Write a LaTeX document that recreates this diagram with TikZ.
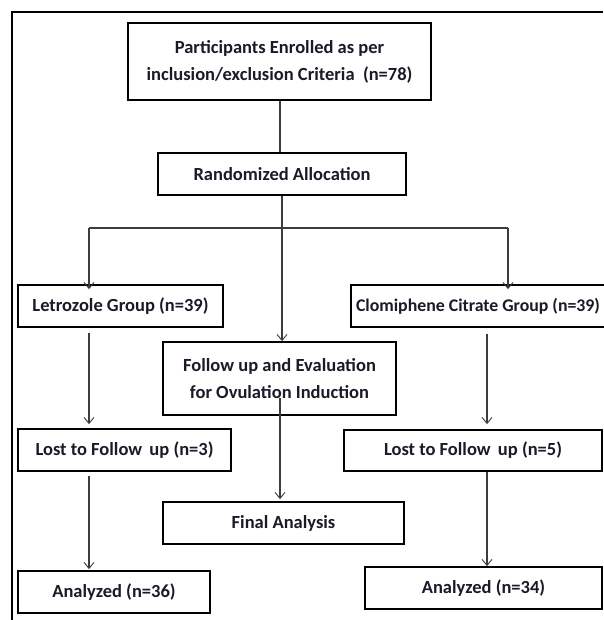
\documentclass[tikz,border=0pt]{standalone}
\usepackage{fontspec}
\setmainfont{Carlito}
\usetikzlibrary{arrows.meta}
\definecolor{txt}{HTML}{1A1A28}
\definecolor{lin}{HTML}{3C3C3C}
\begin{document}
\begin{tikzpicture}[x=1pt,y=-1pt,
  box/.style={draw=black,line width=1.8pt,rectangle,inner sep=1pt,align=center,
    font=\fontsize{18.5}{27}\selectfont\bfseries,text=txt},
  conn/.style={draw=lin,line width=1.1pt},
  arr/.style={conn,-{Straight Barb[length=6pt,width=10pt,line width=0.9pt]}}]
\useasboundingbox (0,0) rectangle (603,620);
\fill[white] (0,0) rectangle (603,620);
% frame
\draw[line width=2pt,black] (12,620) -- (12,12) -- (603,12);
% nodes
\node[box,minimum width=303pt,minimum height=77pt] (top) at (279.5,61.5)
  {Participants Enrolled as per\\inclusion/exclusion Criteria~ (n=78)};
\node[box,minimum width=248pt,minimum height=42pt] (rand) at (282,174) {Randomized Allocation};
\node[box,minimum width=205pt,minimum height=42pt] (letro) at (120.5,306) {Letrozole Group (n=39)};
\node[box,minimum width=254pt,minimum height=42pt,font=\fontsize{17.8}{27}\selectfont\bfseries] (clom) at (478,306) {Clomiphene Citrate Group (n=39)};
\node[box,minimum width=233pt,minimum height=73pt] (follow) at (279.5,378.5)
  {Follow up and Evaluation\\for Ovulation Induction};
\node[box,minimum width=213pt,minimum height=42pt] (lostL) at (124.5,450) {Lost to Follow\, up (n=3)};
\node[box,minimum width=258pt,minimum height=41pt] (lostR) at (473,450.5) {Lost to Follow\, up (n=5)};
\node[box,minimum width=241pt,minimum height=42pt] (final) at (283.5,523) {Final Analysis};
\node[box,minimum width=192pt,minimum height=42pt] (anaL) at (114,592) {Analyzed (n=36)};
\node[box,minimum width=237pt,minimum height=42pt] (anaR) at (483.5,588) {Analyzed (n=34)};
% connector points
\coordinate (hL) at (89,228);
\coordinate (hR) at (508,228);
\coordinate (xc) at (282,0);
\coordinate (xr) at (487,0);
% connectors
\draw[conn] (top.south -| 280,0) -- (rand.north -| 280,0);
\draw[arr] (rand.south -| xc) -- (follow.north -| xc);
\draw[conn] (hL) -- (hR);
\draw[arr] (hL) -- ([yshift=-5pt]hL |- letro.north);
\draw[arr] (hR) -- ([yshift=-5pt]hR |- clom.north);
\draw[arr] ([yshift=-5pt]hL |- letro.south) -- ([yshift=4pt]hL |- lostL.north);
\draw[arr] ([yshift=-4pt]hL |- lostL.south) -- ([yshift=1pt]hL |- anaL.north);
\draw[arr] ([yshift=-6pt]xr |- clom.south) -- ([yshift=5pt]xr |- lostR.north);
\draw[arr] (xr |- lostR.south) -- (xr |- anaR.north);
\draw[arr] ([yshift=18pt]follow.south -| 280,0) -- ([yshift=2pt]final.north -| 280,0);
\end{tikzpicture}
\end{document}
